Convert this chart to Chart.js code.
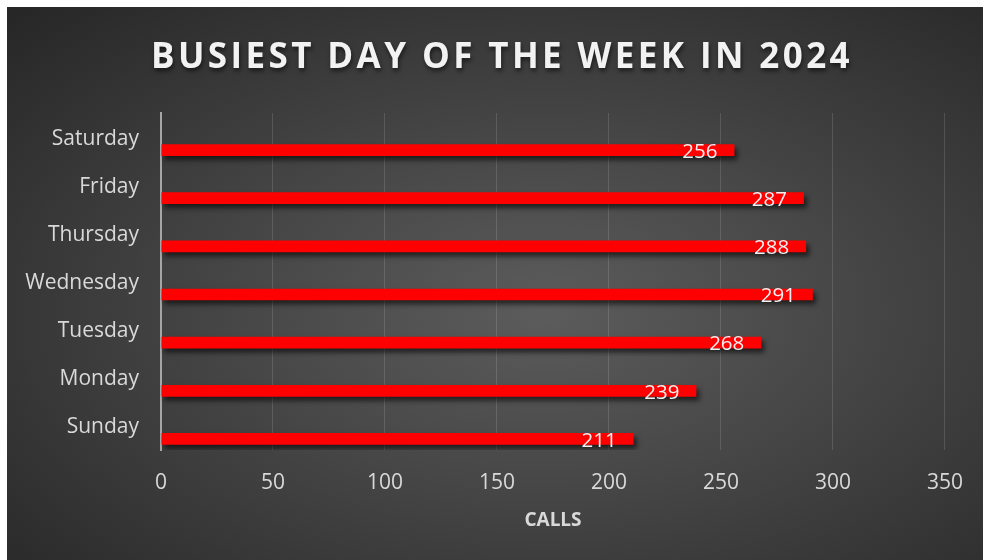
<!DOCTYPE html>
<html><head><meta charset="utf-8">
<script src="https://cdn.jsdelivr.net/npm/chart.js@4"></script>
<style>
html,body{margin:0;padding:0;background:#fff;width:985px;height:560px;overflow:hidden;}
#wrap{position:absolute;left:7px;top:7px;width:976px;height:553px;
background:radial-gradient(ellipse at 55% 55%, #5c5c5c 0%, #474747 40%, #262626 100%);}
canvas{display:block}
</style></head><body>
<div id="wrap"><canvas id="c" width="976" height="553"></canvas></div>
<script>
const days = ['Sunday','Monday','Tuesday','Wednesday','Thursday','Friday','Saturday'];
const calls = [211, 239, 268, 291, 288, 287, 256];
const spacer = [null, null, null, null, null, null, null];
const xTicks = [0, 50, 100, 150, 200, 250, 300, 350];
const chartTitle = 'BUSIEST DAY OF THE WEEK IN 2024';
const axisTitle = 'CALLS';

const FONT = 'Open Sans';

function barGradient(ctx) {
  const el = ctx.element;
  const c = ctx.chart.ctx;
  if (!el || el.height === undefined || !isFinite(el.y)) return '#ff0000';
  const h = el.height || 12;
  const top = el.y - h / 2, bot = el.y + h / 2;
  const g = c.createLinearGradient(0, top, 0, bot);
  g.addColorStop(0, '#ff5c5c');
  g.addColorStop(0.3, '#ff3c3c');
  g.addColorStop(0.42, '#ff0a0a');
  g.addColorStop(1, '#f80000');
  return g;
}

const barShadow = {
  id: 'barShadow',
  beforeDatasetDraw(chart, args) {
    const ctx = chart.ctx;
    ctx.save();
    ctx.shadowColor = 'rgba(0,0,0,0.6)';
    ctx.shadowBlur = 5;
    ctx.shadowOffsetX = 3;
    ctx.shadowOffsetY = 4;
  },
  afterDatasetDraw(chart) { chart.ctx.restore(); }
};

const valueLabels = {
  id: 'valueLabels',
  afterDatasetsDraw(chart) {
    const ctx = chart.ctx;
    const meta = chart.getDatasetMeta(1);
    ctx.save();
    ctx.font = '20.5px "' + FONT + '"';
    ctx.fillStyle = '#f0f0f0';
    ctx.textAlign = 'right';
    ctx.textBaseline = 'middle';
    meta.data.forEach((bar, i) => {
      ctx.fillText(String(calls[i]), bar.x - 17, bar.y + 2);
    });
    ctx.restore();
  }
};

const titleStyle = {
  id: 'titleStyle',
  afterLayout(chart) {
    const tb = chart.titleBlock;
    if (!tb || tb._patched) return;
    const orig = tb.draw;
    tb.draw = function () {
      const ctx = this.ctx;
      ctx.save();
      ctx.letterSpacing = '3.4px';
      ctx.shadowColor = 'rgba(0,0,0,0.55)';
      ctx.shadowBlur = 4;
      ctx.shadowOffsetX = 1;
      ctx.shadowOffsetY = 3;
      ctx.translate(25, 0);
      orig.apply(this, arguments);
      ctx.restore();
    };
    tb._patched = true;
  }
};

new Chart(document.getElementById('c'), {
  type: 'bar',
  data: {
    labels: days,
    datasets: [
      { label: 'spacer', data: spacer, backgroundColor: 'rgba(0,0,0,0)' },
      { label: axisTitle, data: calls, backgroundColor: barGradient, borderWidth: 0 }
    ]
  },
  options: {
    indexAxis: 'y',
    responsive: false,
    animation: false,
    categoryPercentage: 1.08,
    barPercentage: 0.45,
    layout: { padding: { left: 0, right: 36, top: 0, bottom: 0 } },
    plugins: {
      legend: { display: false },
      tooltip: { enabled: false },
      title: {
        display: true,
        text: chartTitle,
        color: '#f2f2f2',
        font: { family: FONT, size: 35, weight: 'bold', lineHeight: 1.2 },
        padding: { top: 30, bottom: 34 }
      }
    },
    scales: {
      x: {
        type: 'linear',
        min: 0, max: 350,
        afterBuildTicks: s => { s.ticks = xTicks.map(v => ({ value: v })); },
        grid: {
          color: c => c.index === 0 ? 'rgba(0,0,0,0)' : 'rgba(255,255,255,0.13)',
          lineWidth: 1,
          drawTicks: false
        },
        border: { display: false },
        ticks: { color: '#d9d9d9', font: { family: FONT, size: 21 }, padding: 20 },
        title: {
          display: true, text: axisTitle, color: '#d9d9d9',
          font: { family: FONT, size: 19, weight: 'bold' },
          padding: { top: 0, bottom: 28 }
        },
        afterFit: s => { s.height = 110; }
      },
      y: {
        type: 'category',
        reverse: true,
        grid: { display: false, drawTicks: false },
        border: { display: true, color: '#a6a6a6', width: 2 },
        ticks: { color: '#d9d9d9', font: { family: FONT, size: 21 }, padding: 22, labelOffset: 1.5 },
        afterFit: s => { s.width = 154; }
      }
    }
  },
  plugins: [barShadow, valueLabels, titleStyle]
});
</script>
</body></html>
